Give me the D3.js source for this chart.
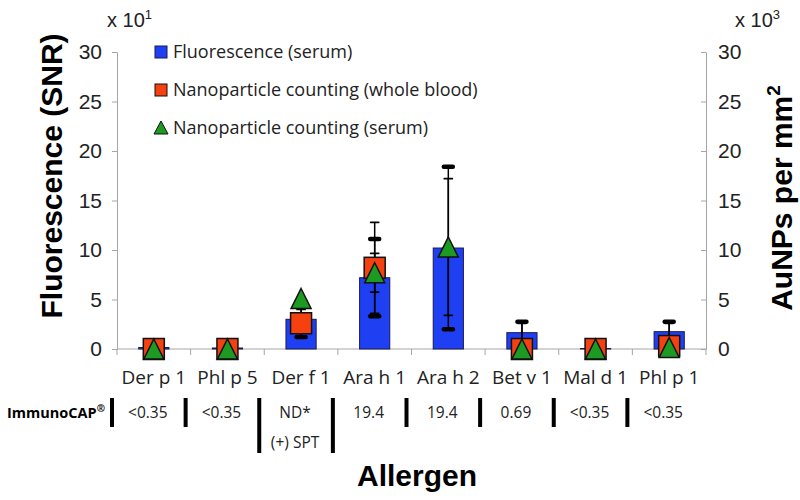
<!DOCTYPE html>
<html>
<head>
<meta charset="utf-8">
<script src="https://cdn.jsdelivr.net/npm/d3@7"></script>
<style>
  body { margin: 0; background: #fff; }
  text { font-family: "Liberation Sans", Arial, sans-serif; }
  .cal { font-family: "Open Sans", "Lato", sans-serif; }
</style>
</head>
<body>
<div id="chart"></div>
<script>
var allergens = ["Der p 1", "Phl p 5", "Der f 1", "Ara h 1", "Ara h 2", "Bet v 1", "Mal d 1", "Phl p 1"];
// fluorescence (serum), left axis, x 10^1
var fluo    = [0.15, 0.1, 3.0, 7.2, 10.2, 1.65, 0.05, 1.75];
var fluoErr = [0, 0, 1.8, 3.9, 8.2, 1.1, 0, 1.0];
// nanoparticle counting, right axis, x 10^3
var wholeBlood    = [0, 0, 2.6, 8.2, null, 0, 0, 0.3];
var wholeBloodErr = [0, 0, 1.4, 4.6, 0, 2.6, 0, 2.3];
var serum    = [0, 0, 5.1, 7.7, 10.3, 0, 0, 0.15];
var serumErr = [0, 0, 0, 1.95, 6.9, 0, 0, 0];
var immunoCap = ["<0.35", "<0.35", "ND*", "19.4", "19.4", "0.69", "<0.35", "<0.35"];
var immunoCap2 = ["", "", "(+) SPT", "", "", "", "", ""];
var yTicks = [0, 5, 10, 15, 20, 25, 30];

var legendItems = [
  {name: "Fluorescence (serum)", shape: "bar"},
  {name: "Nanoparticle counting (whole blood)", shape: "square"},
  {name: "Nanoparticle counting (serum)", shape: "triangle"}
];

var W = 800, H = 500;
var margin = {top: 52, right: 94, bottom: 151, left: 117};
var blue = "#1f3ff2", red = "#f5400f", green = "#1c9a22", axisGray = "#a6a6a6";

var svg = d3.select("#chart").append("svg")
    .attr("width", W)
    .attr("height", H);

var x = d3.scaleBand()
    .domain(allergens)
    .range([margin.left, W - margin.right]);

var y = d3.scaleLinear()
    .domain([0, 30])
    .range([H - margin.bottom, margin.top]);

var yR = d3.scaleLinear()
    .domain([0, 30])
    .range([H - margin.bottom, margin.top]);

// left axis
var gl = svg.append("g")
    .attr("transform", "translate(" + margin.left + ",0)")
    .call(d3.axisLeft(y).tickValues(yTicks).tickSize(5).tickPadding(10));
gl.select(".domain").attr("stroke", axisGray);
gl.selectAll(".tick line").attr("stroke", axisGray);
gl.selectAll(".tick text").attr("font-size", 21).attr("fill", "#222")
    .attr("font-family", "Liberation Sans, Arial, sans-serif");

// right axis (ticks inward)
var gr = svg.append("g")
    .attr("transform", "translate(" + (W - margin.right) + ",0)")
    .call(d3.axisRight(yR).tickValues(yTicks).tickSizeInner(-5).tickSizeOuter(0).tickPadding(12));
gr.select(".domain").attr("stroke", axisGray);
gr.selectAll(".tick line").attr("stroke", axisGray);
gr.selectAll(".tick text").attr("font-size", 21).attr("fill", "#222")
    .attr("font-family", "Liberation Sans, Arial, sans-serif");

// bottom axis line with category boundary ticks
var y0 = y(0);
svg.append("line")
    .attr("x1", margin.left).attr("x2", W - margin.right)
    .attr("y1", y0).attr("y2", y0)
    .attr("stroke", axisGray);
svg.selectAll(".btick")
    .data(allergens.concat(["end"]))
    .enter().append("line")
    .attr("class", "btick")
    .attr("x1", function (d, i) { return margin.left + i * x.step(); })
    .attr("x2", function (d, i) { return margin.left + i * x.step(); })
    .attr("y1", y0).attr("y2", y0 + 6)
    .attr("stroke", axisGray);

// exponents
svg.append("text").attr("x", 107).attr("y", 27).attr("font-size", 20).attr("fill", "#222")
    .html('x 10<tspan dy="-8" font-size="13">1</tspan>');
svg.append("text").attr("x", 735).attr("y", 27).attr("font-size", 20).attr("fill", "#222")
    .html('x 10<tspan dy="-8" font-size="13">3</tspan>');

// axis titles
svg.append("text")
    .attr("transform", "translate(62,176) rotate(-90)")
    .attr("text-anchor", "middle")
    .attr("font-size", 30).attr("font-weight", "bold")
    .text("Fluorescence (SNR)");
svg.append("text")
    .attr("transform", "translate(792,198) rotate(-90)")
    .attr("text-anchor", "middle")
    .attr("font-size", 30).attr("font-weight", "bold")
    .html('AuNPs per mm<tspan dy="-12" font-size="19">2</tspan>');
svg.append("text")
    .attr("x", 417).attr("y", 486)
    .attr("text-anchor", "middle")
    .attr("font-size", 30).attr("font-weight", "bold")
    .text("Allergen");

// category labels
svg.selectAll(".cat")
    .data(allergens)
    .enter().append("text")
    .attr("class", "cal")
    .attr("x", function (d) { return x(d) + x.bandwidth() / 2; })
    .attr("y", 384)
    .attr("text-anchor", "middle")
    .attr("font-size", 19)
    .attr("fill", "#222")
    .text(function (d) { return d; });

var bw = x.bandwidth() * 0.41;
var cx = function (i) { return x(allergens[i]) + x.bandwidth() / 2; };

// bars
svg.selectAll(".bar")
    .data(fluo)
    .enter().append("rect")
    .attr("class", "bar")
    .attr("x", function (d, i) { return cx(i) - bw / 2; })
    .attr("y", function (d) { return y(d); })
    .attr("width", bw)
    .attr("height", function (d) { return y0 - y(d); })
    .attr("fill", blue)
    .attr("stroke", "#1a1a55")
    .attr("stroke-width", 1);

// error bars
function errorBars(vals, errs, scale, capW, capStroke) {
  var g = svg.append("g");
  vals.forEach(function (v, i) {
    if (v === null || !errs[i]) return;
    var hi = scale(v + errs[i]), lo = scale(Math.max(0, v - errs[i]));
    g.append("line").attr("x1", cx(i)).attr("x2", cx(i))
      .attr("y1", hi).attr("y2", lo)
      .attr("stroke", "#000").attr("stroke-width", 1.5);
    [hi, lo].forEach(function (yy) {
      g.append("line").attr("x1", cx(i) - capW / 2).attr("x2", cx(i) + capW / 2)
        .attr("y1", yy).attr("y2", yy)
        .attr("stroke", "#000").attr("stroke-width", capStroke)
        .attr("stroke-linecap", "round");
    });
  });
}
errorBars(fluo, fluoErr, y, 9, 4.5);
errorBars(wholeBlood, wholeBloodErr, yR, 8, 1.8);
errorBars(serum, serumErr, yR, 8, 1.8);

// markers
var ms = 21;
svg.selectAll(".sq")
    .data(wholeBlood.map(function (v, i) { return {v: v, i: i}; }).filter(function (d) { return d.v !== null; }))
    .enter().append("rect")
    .attr("class", "sq")
    .attr("x", function (d) { return cx(d.i) - ms / 2; })
    .attr("y", function (d) { return yR(d.v) - ms / 2; })
    .attr("width", ms).attr("height", ms)
    .attr("fill", red).attr("stroke", "#111").attr("stroke-width", 1.5);

svg.selectAll(".tri")
    .data(serum.map(function (v, i) { return {v: v, i: i}; }).filter(function (d) { return d.v !== null; }))
    .enter().append("path")
    .attr("class", "tri")
    .attr("d", function () {
      var h = ms - 1, w = ms - 1;
      return "M0," + (-h / 2) + "L" + (w / 2) + "," + (h / 2) + "L" + (-w / 2) + "," + (h / 2) + "Z";
    })
    .attr("transform", function (d) { return "translate(" + cx(d.i) + "," + yR(d.v) + ")"; })
    .attr("fill", green).attr("stroke", "#111").attr("stroke-width", 1.5);

// legend
var lg = svg.append("g").attr("transform", "translate(155,52)");
legendItems.forEach(function (item, i) {
  var ly = i * 38;
  if (item.shape === "bar") {
    lg.append("rect").attr("x", 0).attr("y", ly - 6).attr("width", 12).attr("height", 12)
      .attr("fill", blue).attr("stroke", "#1a1a55");
  } else if (item.shape === "square") {
    lg.append("rect").attr("x", 0).attr("y", ly - 6).attr("width", 12).attr("height", 12)
      .attr("fill", red).attr("stroke", "#111");
  } else {
    lg.append("path").attr("d", "M6," + (ly - 7) + "L13," + (ly + 6) + "L-1," + (ly + 6) + "Z")
      .attr("fill", green).attr("stroke", "#111");
  }
  lg.append("text").attr("class", "cal")
    .attr("x", 18).attr("y", ly + 6)
    .attr("font-size", 18).attr("fill", "#222")
    .text(item.name);
});

// ImmunoCAP row
svg.append("text")
    .attr("class", "cal")
    .attr("x", 7).attr("y", 418)
    .attr("font-size", 14.5).attr("font-weight", "bold")
    .html('ImmunoCAP<tspan dy="-6" font-size="10">®</tspan>');

svg.selectAll(".sep")
    .data(allergens)
    .enter().append("rect")
    .attr("class", "sep")
    .attr("x", function (d) { return x(d) - 7; })
    .attr("y", 398)
    .attr("width", 4)
    .attr("height", function (d, i) { return (i === 2 || i === 3) ? 55 : 29; })
    .attr("fill", "#000");

svg.selectAll(".icap")
    .data(immunoCap)
    .enter().append("text")
    .attr("class", "cal")
    .attr("x", function (d, i) { return x(allergens[i]) - 5 + x.step() / 2 - 1; })
    .attr("y", 418)
    .attr("text-anchor", "middle")
    .attr("font-size", 15.5).attr("fill", "#222")
    .text(function (d) { return d; });

svg.selectAll(".icap2")
    .data(immunoCap2)
    .enter().append("text")
    .attr("class", "cal")
    .attr("x", function (d, i) { return x(allergens[i]) - 5 + x.step() / 2 - 1; })
    .attr("y", 448)
    .attr("text-anchor", "middle")
    .attr("font-size", 15.5).attr("fill", "#222")
    .text(function (d) { return d; });
</script>
</body>
</html>
